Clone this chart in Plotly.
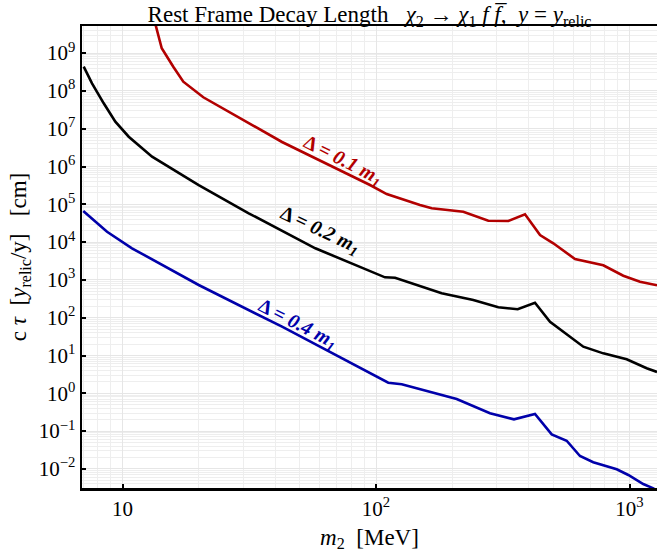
import numpy as np
import plotly.graph_objects as go

# ---- data (m2 in MeV, c*tau in cm) ----
m_d01 = [13.19, 14.28, 15.86, 17.37, 20.83, 42.59, 94.7, 110.2, 149.1, 165.9, 221.0, 277.3,
         332.6, 387.1, 443.7, 500.5, 609.5, 698.7, 788.2, 945.2, 1100, 1284]
ct_d01 = [1.02e10, 1.34e9, 4.37e8, 1.75e8, 6.78e7, 4.45e6, 3.24e5, 1.87e5, 9.58e4, 7.84e4, 6.37e4, 3.68e4,
          3.62e4, 5.44e4, 1.54e4, 9.3e3, 3.57e3, 2.85e3, 2.43e3, 1.29e3, 896, 720]

m_d02 = [7.03, 7.58, 8.43, 9.37, 10.58, 13.08, 19.98, 31.47, 57.63, 94.7, 108.5, 118.9, 181.6, 242.0,
         303.7, 362.2, 423.8, 485.8, 657.3, 788.2, 890.4, 974.8, 1169, 1284]
ct_d02 = [4.37e8, 1.59e8, 4.70e7, 1.53e7, 6.14e6, 1.82e6, 3.24e5, 5.78e4, 6.86e3, 1.65e3, 1.17e3, 1.14e3,
          442, 294, 188, 167, 249, 78.4, 17.1, 11.4, 9.30, 7.93, 4.59, 3.66]

m_d04 = [7.0, 8.69, 10.90, 19.98, 42.59, 105.6, 111.8, 126.3, 208.1, 281.6, 350.3, 423.8, 493.3, 565.2,
         637.7, 719.5, 890.4, 989.2, 1133, 1241, 1284]
ct_d04 = [6.65e4, 1.88e4, 6.86e3, 733, 57.8, 2.25, 1.91, 1.73, 0.707, 0.296, 0.205, 0.283, 0.0822, 0.0557,
          0.0219, 0.0150, 0.00976, 0.0069, 0.00399, 0.00307, 0.0026]

labels = ["<b>Δ = <i>0.1 m</i><sub><i>1</i></sub></b>",
          "<b>Δ = <i>0.2 m</i><sub><i>1</i></sub></b>",
          "<b>Δ = <i>0.4 m</i><sub><i>1</i></sub></b>"]
label_m = [73.8, 60.1, 49.2]
label_ct = [1.4e6, 1.97e4, 68]
label_angle = [27, 25, 27]
colors = ["#b20000", "#000000", "#0000aa"]

x_tickvals = [10, 100, 1000]
x_ticktext = ["10", "10<sup>2</sup>", "10<sup>3</sup>"]
y_exps = list(range(-2, 10))
y_tickvals = [10.0 ** e for e in y_exps]
y_ticktext = ["10<sup>%s</sup>" % (str(e).replace("-", "−")) for e in y_exps]

x_minor = [k * 10.0 ** d for d in range(0, 4) for k in range(2, 10)]
y_minor = [k * 10.0 ** d for d in range(-3, 11) for k in range(2, 10)]

font_family = "Liberation Serif, Times New Roman, serif"

fig = go.Figure()
for mm, cc, col in zip([m_d01, m_d02, m_d04], [ct_d01, ct_d02, ct_d04], colors):
    fig.add_trace(go.Scatter(x=mm, y=cc, mode="lines", line=dict(color=col, width=2.6),
                             showlegend=False, hoverinfo="skip"))

for t, xm, yc, ang, col in zip(labels, label_m, label_ct, label_angle, colors):
    fig.add_annotation(x=np.log10(xm), y=np.log10(yc), xref="x", yref="y", text=t,
                       showarrow=False, textangle=ang,
                       font=dict(family=font_family, size=20, color=col))

fig.update_layout(
    width=657, height=554,
    margin=dict(l=82, r=0, t=26, b=66),
    paper_bgcolor="white", plot_bgcolor="white",
    font=dict(family=font_family, size=21, color="black"),
    title=dict(text="Rest Frame Decay Length &nbsp; <i>χ</i><sub>2</sub> → <i>χ</i><sub>1</sub> <i>f</i> <i>f̅</i>, &nbsp;<i>y</i> = <i>y</i><sub>relic</sub>",
               x=0.5625, xanchor="center", y=0.975, yanchor="middle", yref="container",
               font=dict(family=font_family, size=23, color="black")),
)

fig.update_xaxes(type="log", range=[0.8402, 3.1085], automargin=False,
                 tickvals=x_tickvals, ticktext=x_ticktext,
                 ticks="inside", ticklen=4, tickwidth=2, tickcolor="black",
                 showline=True, linecolor="black", linewidth=2.5, mirror=True,
                 showgrid=True, gridcolor="#e6e6e6", gridwidth=1,
                 minor=dict(tickvals=x_minor, showgrid=True, gridcolor="#eeeeee", ticklen=0),
                 zeroline=False,
                 title=dict(text="<i>m</i><sub>2</sub>  [MeV]", font=dict(size=23), standoff=9))
fig.update_yaxes(type="log", range=[-2.505, 9.717], automargin=False,
                 tickvals=y_tickvals, ticktext=y_ticktext,
                 ticks="inside", ticklen=4, tickwidth=2, tickcolor="black",
                 showline=True, linecolor="black", linewidth=2.5, mirror=False,
                 showgrid=True, gridcolor="#e6e6e6", gridwidth=1,
                 minor=dict(tickvals=y_minor, showgrid=True, gridcolor="#eeeeee", ticklen=0),
                 zeroline=False,
                 title=dict(text="c <i>τ</i>  [<i>y</i><sub>relic</sub>/y]   [cm]", font=dict(size=23), standoff=6))

fig.write_html("out.html", config={"displayModeBar": False, "staticPlot": True},
               post_script="document.body.style.margin='0';document.body.style.overflow='hidden';")
